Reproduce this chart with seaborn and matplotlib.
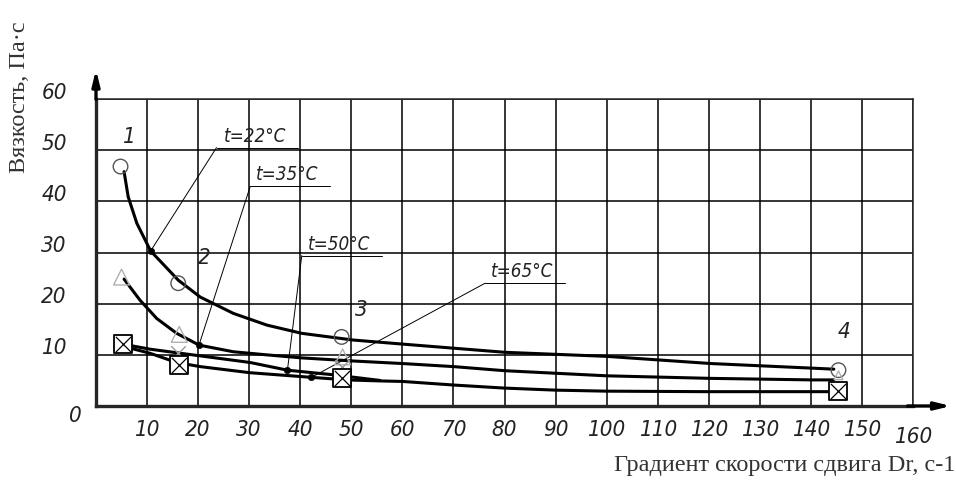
import matplotlib
matplotlib.use("Agg")
import matplotlib.pyplot as plt
from matplotlib.transforms import ScaledTranslation
import seaborn as sns

# curve points (gradient, viscosity)
c22_x = [5.5, 6.3, 8.0, 10.7, 16.1, 20.4, 26.9, 33.5, 40.3, 50.3, 60.0, 70.0, 80.0, 90.0, 100.0, 120.4, 140.2, 144.5]
c22_y = [45.8, 40.9, 35.7, 30.3, 24.6, 21.3, 18.1, 15.8, 14.2, 12.9, 12.1, 11.3, 10.5, 10.1, 9.7, 8.3, 7.4, 7.2]

c35_x = [5.5, 8.6, 11.9, 15.8, 20.2, 26.9, 33.4, 40.3, 50.3, 60.0, 70.0, 80.0, 90.0, 100.0, 120.4, 140.2, 144.5]
c35_y = [24.8, 20.7, 17.1, 14.2, 11.9, 10.6, 10.0, 9.4, 8.8, 8.3, 7.7, 6.9, 6.4, 5.9, 5.4, 5.1, 5.1]

c50_x = [5.2, 10.6, 20.4, 30.2, 37.5, 46.5, 55.6]
c50_y = [12.1, 11.1, 9.8, 8.5, 7.0, 6.1, 5.0]

c65_x = [5.2, 10.6, 15.8, 20.4, 30.2, 42.2, 49.1, 55.6, 60.0, 70.0, 80.0, 90.0, 100.0, 120.0, 140.0, 144.5]
c65_y = [11.7, 10.3, 8.5, 7.7, 6.5, 5.6, 5.1, 4.9, 4.8, 4.1, 3.5, 3.1, 2.9, 2.8, 2.8, 2.8]

# measured points
circ_x = [4.8, 16.1, 48.1, 145.4]
circ_y = [46.8, 24.0, 13.5, 7.0]
tri_x = [5.0, 16.3, 48.3, 145.4]
tri_y = [25.2, 14.0, 9.6, 6.0]
cross_x = [16.1, 48.1]
cross_y = [10.4, 7.7]
sq_x = [5.2, 16.3, 48.1, 145.3]
sq_y = [12.1, 8.1, 5.4, 2.9]

# points the temperature leaders point to
dot_x = [10.7, 20.2, 37.5, 42.2]
dot_y = [30.3, 12.0, 7.1, 5.6]
temps = ["t=22°C", "t=35°C", "t=50°C", "t=65°C"]

curve_nums = ["1", "2", "3", "4"]
xticks = list(range(0, 161, 10))
yticks = list(range(0, 61, 10))

sns.set_style("white")
tech = dict(family="DejaVu Sans", stretch="condensed", style="oblique", color="#222222")

fig = plt.figure(figsize=(9.56, 4.87), dpi=100)
ax = fig.add_axes([96 / 956, 1 - 406 / 487, 817 / 956, 307 / 487])
ax.set_xlim(0, 160)
ax.set_ylim(0, 60)

ax.set_xticks(xticks)
ax.set_yticks(yticks)
ax.grid(True, color="black", lw=1.1)
ax.set_axisbelow(True)
for s in ["top", "right"]:
    ax.spines[s].set_linewidth(1.1)
for s in ["left", "bottom"]:
    ax.spines[s].set_linewidth(2.4)
ax.tick_params(length=0)

ax.set_xticklabels([""] + [str(v) for v in xticks[1:]], fontsize=16, **tech)
ax.set_yticklabels([""] + [str(v) for v in yticks[1:]], fontsize=16, **tech)
ax.tick_params(axis="x", pad=10)
ax.tick_params(axis="y", pad=21)
for lbl in ax.get_yticklabels():
    lbl.set_transform(lbl.get_transform() + ScaledTranslation(0, 6 / 72, fig.dpi_scale_trans))
xl = ax.get_xticklabels()
xl[-1].set_transform(xl[-1].get_transform() + ScaledTranslation(0, -5 / 72, fig.dpi_scale_trans))
ax.annotate("0", xy=(0, 0), xytext=(-15, -7), textcoords="offset points",
            ha="center", va="center", fontsize=16, **tech)

# axis arrows
ax.annotate("", xy=(0, 1.105), xytext=(0, 0.99), xycoords="axes fraction",
            arrowprops=dict(arrowstyle="-|>,head_length=0.9,head_width=0.22", lw=2.4, color="black"))
ax.annotate("", xy=(1.05, 0), xytext=(0.99, 0), xycoords="axes fraction",
            arrowprops=dict(arrowstyle="-|>,head_length=0.9,head_width=0.22", lw=2.4, color="black"))

# curves
for cx, cy in [(c22_x, c22_y), (c35_x, c35_y), (c50_x, c50_y), (c65_x, c65_y)]:
    sns.lineplot(x=cx, y=cy, ax=ax, color="black", lw=2.2, sort=False, estimator=None)

# markers
sns.scatterplot(x=circ_x, y=circ_y, ax=ax, marker="o", s=110, facecolor="none",
                edgecolor="#555555", linewidth=1.0, zorder=4)
sns.scatterplot(x=tri_x[:3], y=tri_y[:3], ax=ax, marker="^", s=130, facecolor="none",
                edgecolor="#b0b0b0", linewidth=1.0, zorder=4)
sns.scatterplot(x=tri_x[3:], y=tri_y[3:], ax=ax, marker="^", s=40, facecolor="none",
                edgecolor="#b0b0b0", linewidth=1.0, zorder=4)
sns.scatterplot(x=cross_x, y=cross_y, ax=ax, marker="x", s=110, color="#9a9a9a",
                linewidth=1.0, zorder=4)
sns.scatterplot(x=sq_x, y=sq_y, ax=ax, marker="s", s=150, facecolor="white",
                edgecolor="black", linewidth=1.3, zorder=5)
sns.scatterplot(x=sq_x, y=sq_y, ax=ax, marker="x", s=120, color="black",
                linewidth=0.9, zorder=6)
sns.scatterplot(x=dot_x, y=dot_y, ax=ax, marker="o", s=22, color="black",
                edgecolor="black", zorder=6)

# temperature labels with leader lines
under = [(23.6, 39.6, 50.5), (30.2, 45.8, 42.9), (40.3, 56.1, 29.4), (76.2, 91.8, 24.0)]
for txt, (u0, u1, uy), dx, dy in zip(temps, under, dot_x, dot_y):
    ax.plot([u0, u1], [uy, uy], color="black", lw=0.7, zorder=3)
    ax.plot([u0, dx], [uy, dy], color="black", lw=0.7, zorder=3)
    ax.text((u0 + u1) / 2 - 0.5, uy + 0.4, txt, ha="center", va="bottom", fontsize=13.5, **tech)

num_pos = [(6.3, 52.6), (21.3, 28.9), (52.0, 18.8), (146.4, 14.5)]
for n, (nx, ny) in zip(curve_nums, num_pos):
    ax.text(nx, ny, n, ha="center", va="center", fontsize=16, **tech)

ax.set_xlabel("")
ax.set_ylabel("")
fig.text(20 / 956, 1 - 97 / 487, "Вязкость, Па·с", rotation=90, ha="center", va="center",
         family="Liberation Serif", fontsize=17.5, color="#333333")
fig.text(955 / 956, 1 - 466 / 487, "Градиент скорости сдвига Dr, с-1", ha="right", va="center",
         family="Liberation Serif", fontsize=17.5, color="#333333")

fig.savefig("out.png", dpi=100)
